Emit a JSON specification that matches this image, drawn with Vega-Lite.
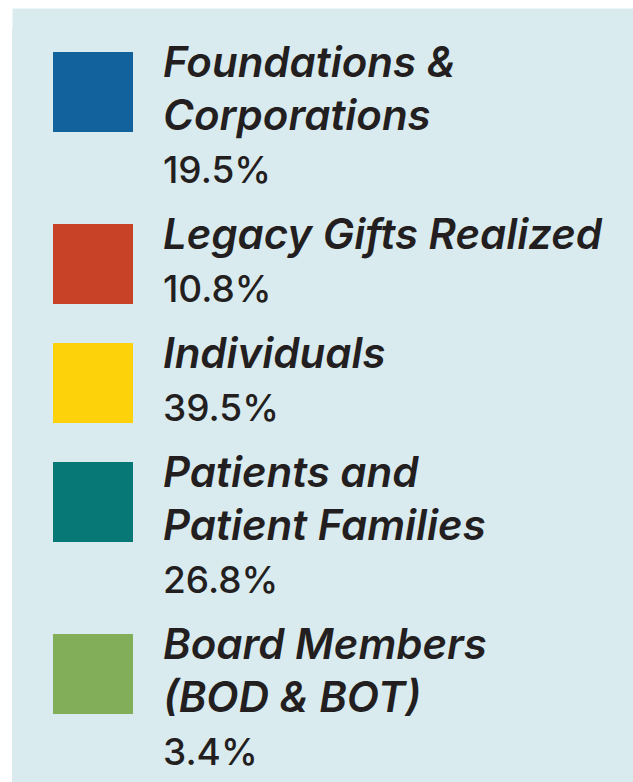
{
  "$schema": "https://vega.github.io/schema/vega-lite/v6.json",
  "background": "white",
  "padding": {"left": 12, "top": 18, "right": 0, "bottom": 0},
  "data": {
    "values": [
      {"cat": "Foundations & Corporations", "line": 1, "kind": "name", "text": "Foundations &"},
      {"cat": "Foundations & Corporations", "line": 2, "kind": "name", "text": "Corporations"},
      {"cat": "Foundations & Corporations", "line": 3, "kind": "pct", "share": 0.195},
      {"cat": "Legacy Gifts Realized", "line": 1, "kind": "name", "text": "Legacy Gifts Realized"},
      {"cat": "Legacy Gifts Realized", "line": 2, "kind": "pct", "share": 0.108},
      {"cat": "Individuals", "line": 1, "kind": "name", "text": "Individuals"},
      {"cat": "Individuals", "line": 2, "kind": "pct", "share": 0.395},
      {"cat": "Patients and Patient Families", "line": 1, "kind": "name", "text": "Patients and"},
      {"cat": "Patients and Patient Families", "line": 2, "kind": "name", "text": "Patient Families"},
      {"cat": "Patients and Patient Families", "line": 3, "kind": "pct", "share": 0.268},
      {"cat": "Board Members (BOD & BOT)", "line": 1, "kind": "name", "text": "Board Members"},
      {"cat": "Board Members (BOD & BOT)", "line": 2, "kind": "name", "text": "(BOD & BOT)"},
      {"cat": "Board Members (BOD & BOT)", "line": 3, "kind": "pct", "share": 0.034}
    ]
  },
  "facet": {
    "row": {
      "field": "cat",
      "type": "nominal",
      "sort": ["Foundations & Corporations", "Legacy Gifts Realized", "Individuals", "Patients and Patient Families", "Board Members (BOD & BOT)"],
      "header": {"labels": false, "title": null},
      "title": null
    }
  },
  "spacing": 0,
  "resolve": {"scale": {"y": "independent"}},
  "spec": {
    "width": 621,
    "height": {"step": 53},
    "layer": [
      {
        "transform": [{"filter": "datum.line === 1"}],
        "mark": {"type": "point", "shape": "square", "filled": true, "size": 6400, "opacity": 1, "strokeWidth": 0, "yOffset": 30},
        "encoding": {
          "x": {
            "datum": 0,
            "type": "quantitative",
            "scale": {"domain": [-1.157142857, 7.714285714], "nice": false, "zero": false},
            "axis": {"orient": "top", "labels": false, "ticks": false, "title": null, "grid": false, "domainColor": "#daebf0", "domainWidth": 21, "offset": 10.5}
          },
          "y": {"field": "line", "type": "ordinal", "scale": {"type": "band", "paddingInner": 0, "paddingOuter": 0.12264150943396}, "axis": null},
          "color": {
            "field": "cat",
            "type": "nominal",
            "scale": {
              "domain": ["Foundations & Corporations", "Legacy Gifts Realized", "Individuals", "Patients and Patient Families", "Board Members (BOD & BOT)"],
              "range": ["#12639d", "#c84227", "#fed20b", "#077876", "#82ad59"]
            },
            "legend": null
          }
        }
      },
      {
        "transform": [{"filter": "datum.kind === 'name'"}],
        "mark": {"type": "text", "align": "left", "baseline": "alphabetic", "dy": 15, "font": "Inter", "fontSize": 42, "fontStyle": "italic", "fontWeight": 600, "color": "#231f20"},
        "encoding": {
          "x": {"datum": 1, "type": "quantitative"},
          "y": {"field": "line", "type": "ordinal"},
          "text": {"field": "text", "type": "nominal"}
        }
      },
      {
        "transform": [{"filter": "datum.kind === 'pct'"}],
        "mark": {"type": "text", "align": "left", "baseline": "alphabetic", "dy": 15, "font": "Inter", "fontSize": 37, "fontWeight": 500, "color": "#231f20"},
        "encoding": {
          "x": {"datum": 1, "type": "quantitative"},
          "y": {"field": "line", "type": "ordinal"},
          "text": {"field": "share", "type": "quantitative", "format": ".1%"}
        }
      }
    ]
  },
  "config": {
    "view": {"fill": "#daebf0", "stroke": null}
  }
}
